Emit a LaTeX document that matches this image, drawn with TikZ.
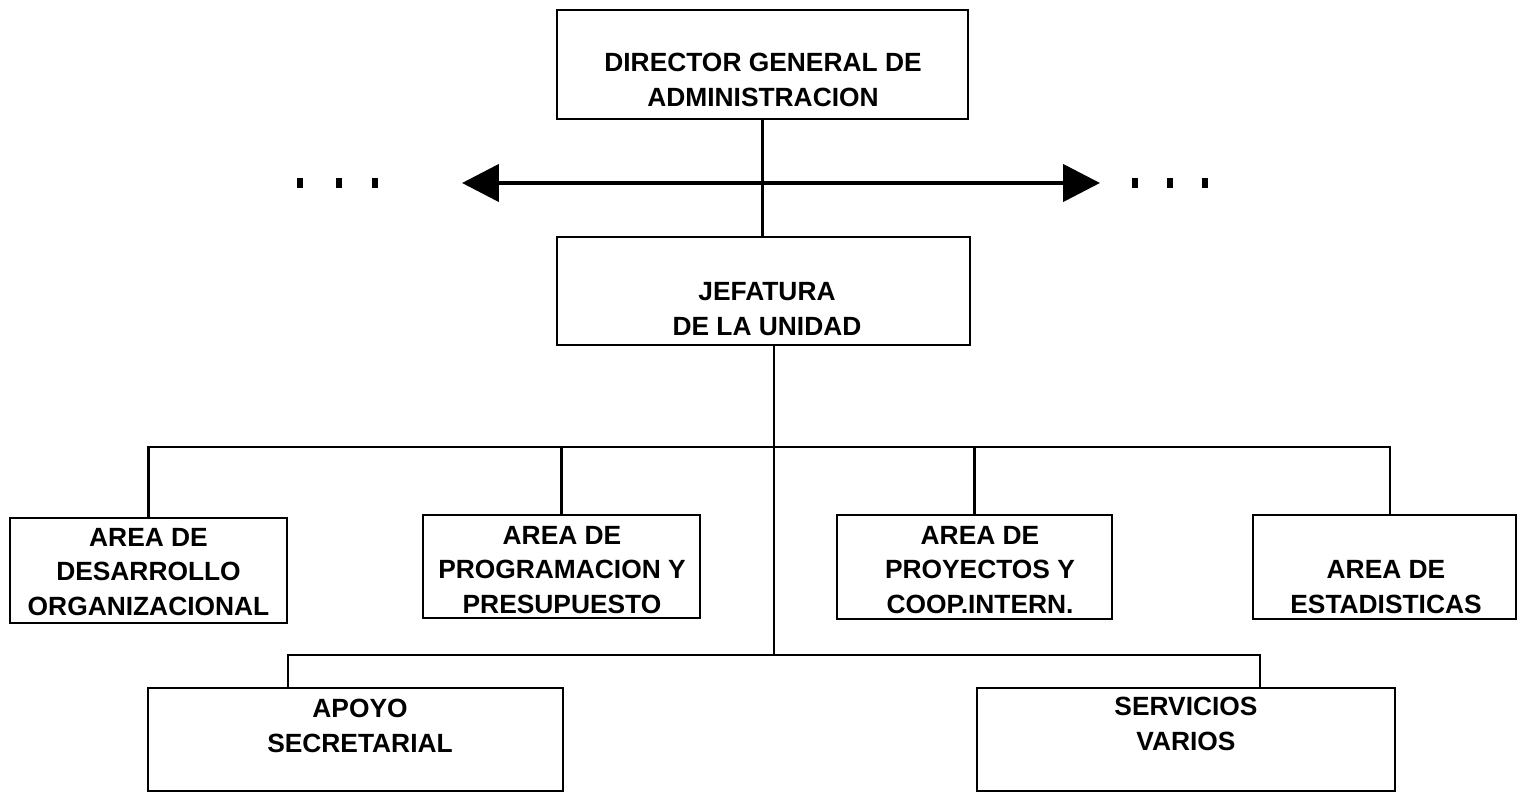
\documentclass[tikz,border=0pt]{standalone}
\usepackage{fontspec}
\setmainfont{Liberation Sans}
\usetikzlibrary{arrows.meta,positioning,calc}
\tikzset{
    >={Triangle[length=21pt,width=21pt]},
    unitbox/.style={rectangle,draw,line width=1.2pt,inner sep=0pt},
    unittext/.style={align=center,inner sep=0pt,font=\bfseries\fontsize{15}{19.5}\selectfont},
    link/.style={line width=1.3pt}
}

\begin{document}
\begin{tikzpicture}[x=0.02cm,y=-0.02cm]
    \useasboundingbox (0,0) rectangle (1518,793);

    % boxes
    \node[unitbox,minimum width=8.22cm,minimum height=2.18cm] (dir) at (762.5,64.5) {};
    \node[unitbox,minimum width=8.26cm,minimum height=2.16cm] (jef) at (763.5,291) {};
    \node[unitbox,minimum width=5.54cm,minimum height=2.10cm] (a1) at (148.5,570.5) {};
    \node[unitbox,minimum width=5.54cm,minimum height=2.06cm] (a2) at (561.5,566.5) {};
    \node[unitbox,minimum width=5.50cm,minimum height=2.08cm] (a3) at (974.5,567) {};
    \node[unitbox,minimum width=5.26cm,minimum height=2.08cm] (a4) at (1384.5,567) {};
    \node[unitbox,minimum width=8.30cm,minimum height=2.06cm] (ap) at (355.5,739.5) {};
    \node[unitbox,minimum width=8.36cm,minimum height=2.06cm] (sv) at (1186,739.5) {};

    % texts
    \node[unittext] (tdir) at (763,80) {DIRECTOR GENERAL DE\\ADMINISTRACION};
    \node[unittext] (tjef) at (767,309) {JEFATURA\\DE LA UNIDAD};
    \node[unittext] (ta1) at (148.5,572) {AREA DE\\DESARROLLO\\ORGANIZACIONAL};
    \node[unittext] (ta2) at (562,570) {AREA DE\\PROGRAMACION Y\\PRESUPUESTO};
    \node[unittext] (ta3) at (980,570) {AREA DE\\PROYECTOS Y\\COOP.INTERN.};
    \node[unittext] (ta4) at (1386,587) {AREA DE\\ESTADISTICAS};
    \node[unittext] (tap) at (360,726) {APOYO\\SECRETARIAL};
    \node[unittext] (tsv) at (1186,724) {SERVICIOS\\VARIOS};

    % connectors
    \coordinate (lt) at (462,183);
    \coordinate (rt) at (1100,183);
    \coordinate (fork) at (774,447);
    \coordinate (hub) at (774,655);
    \draw[link] (dir.south) -- (dir.south |- jef.north);
    \draw[<->,line width=2.6pt] (lt) -- (rt);
    \foreach \x in {300,339,375,1135,1170,1205}
        \fill (\x-3,178) rectangle (\x+3,188);
    \draw[link] (jef.south -| hub) -- (hub);
    \draw[link] (a1.north) -- (a1.north |- fork) -- ([xshift=0.11cm]a4.north |- fork) -- ([xshift=0.11cm]a4.north);
    \draw[link] (a2.north) -- (a2.north |- fork);
    \draw[link] (a3.north) -- (a3.north |- fork);
    \draw[link] ([xshift=-1.35cm]ap.north) |- (hub) -| ([xshift=1.48cm]sv.north);
\end{tikzpicture}
\end{document}
